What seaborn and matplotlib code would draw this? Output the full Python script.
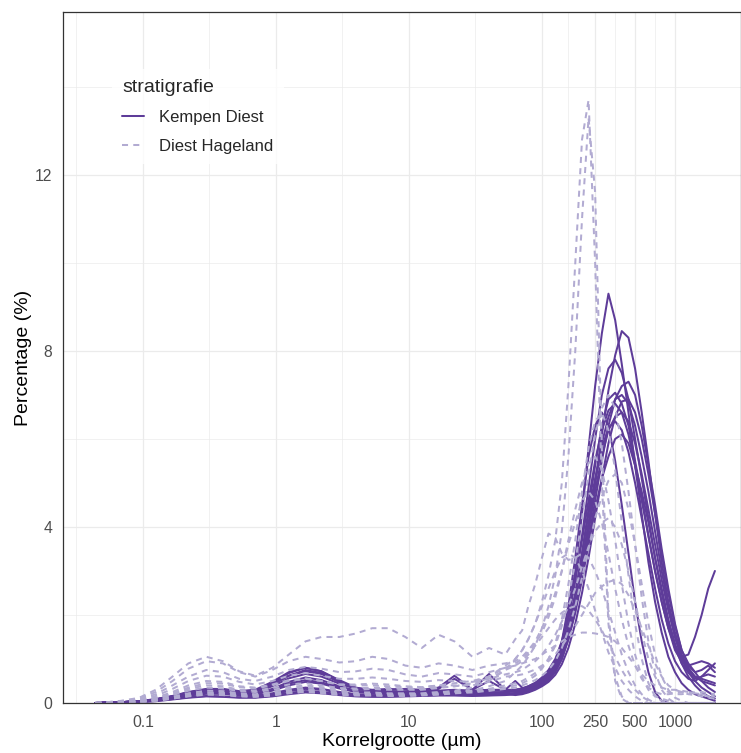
import matplotlib
matplotlib.use("Agg")
import matplotlib.pyplot as plt
import pandas as pd
import seaborn as sns
from matplotlib.lines import Line2D
from matplotlib.ticker import FixedLocator, NullFormatter

# grain size classes (µm)
sizes = [0.044, 0.055, 0.07, 0.094, 0.125, 0.167, 0.22, 0.3, 0.4, 0.53, 0.7, 0.94,
         1.25, 1.67, 2.2, 3.0, 4.0, 5.3, 7.0, 9.4, 12.5, 16.7, 22, 30, 40, 53,
         63, 71, 79, 89, 100, 112, 126, 141, 158, 178, 200, 224, 251, 282, 316,
         355, 398, 447, 501, 562, 631, 708, 794, 891, 1000, 1122, 1259, 1413,
         1585, 1778, 1995]

# Kempen Diest samples (%)
kd_01 = [0, .01, .02, .03, .06, .12, .18, .22, .22, .18, .17, .22, .3, .35, .32, .25, .2, .18, .17, .17, .18, .2, .2, .19, .2, .22,
         .22, .25, .3, .38, .5, .68, .95, 1.35, 2.0, 3.0, 4.3, 5.8, 7.2, 8.4, 9.3, 8.7, 7.7, 6.6, 5.4, 4.3, 3.2, 2.3, 1.6, 1.05, .7, .45, .3, .2, .15, .1, .05]
kd_02 = [0, .01, .02, .04, .08, .14, .22, .28, .28, .22, .22, .32, .48, .58, .52, .38, .28, .24, .22, .22, .24, .26, .26, .24, .24, .24,
         .2, .22, .26, .32, .4, .52, .7, 1.0, 1.45, 2.1, 2.95, 3.95, 5.0, 6.1, 7.1, 7.9, 8.45, 8.3, 7.6, 6.6, 5.5, 4.3, 3.2, 2.3, 1.6, 1.1, .8, .6, .5, .45, .4]
kd_03 = [0, .01, .02, .04, .09, .16, .25, .32, .32, .27, .3, .48, .7, .8, .72, .52, .35, .28, .3, .32, .3, .35, .62, .3, .66, .3,
         .5, .35, .32, .4, .5, .65, .9, 1.3, 1.9, 2.8, 3.8, 4.9, 6.0, 7.0, 7.6, 7.8, 7.5, 6.9, 6.0, 5.1, 4.2, 3.3, 2.5, 1.8, 1.25, .9, .7, .55, .6, .75, .9]
kd_04 = [0, .01, .02, .04, .08, .15, .24, .3, .3, .26, .28, .42, .62, .72, .66, .48, .34, .3, .32, .3, .28, .32, .55, .3, .5, .3,
         .3, .33, .38, .45, .55, .7, .9, 1.2, 1.6, 2.2, 2.9, 3.7, 4.6, 5.5, 6.3, 6.9, 7.2, 7.3, 7.0, 6.3, 5.4, 4.5, 3.5, 2.6, 1.8, 1.2, .9, .7, .5, .35, .25]
kd_05 = [0, 0, .01, .02, .04, .08, .12, .15, .14, .12, .12, .15, .2, .24, .22, .18, .15, .14, .14, .15, .16, .17, .17, .16, .17, .18,
         .2, .24, .28, .34, .42, .56, .78, 1.1, 1.65, 2.45, 3.4, 4.4, 5.4, 6.3, 6.9, 7.05, 6.8, 6.3, 5.5, 4.7, 3.8, 3.0, 2.3, 1.7, 1.3, 1.05, 1.1, 1.5, 2.0, 2.6, 3.0]
kd_06 = [0, .01, .02, .04, .08, .14, .22, .27, .27, .23, .25, .38, .56, .66, .6, .44, .32, .28, .27, .26, .26, .28, .3, .28, .3, .3,
         .28, .3, .35, .42, .52, .66, .88, 1.2, 1.7, 2.4, 3.2, 4.1, 5.0, 5.9, 6.5, 6.9, 7.0, 6.8, 6.3, 5.6, 4.8, 3.9, 3.0, 2.2, 1.5, 1.0, .7, .5, .35, .25, .15]
kd_07 = [0, .01, .02, .04, .07, .13, .2, .25, .25, .2, .2, .28, .4, .48, .44, .33, .25, .22, .2, .2, .21, .22, .23, .22, .22, .25,
         .3, .33, .38, .46, .58, .75, 1.0, 1.4, 2.0, 2.8, 3.7, 4.6, 5.5, 6.2, 6.65, 6.8, 6.6, 6.1, 5.4, 4.6, 3.8, 3.0, 2.3, 1.7, 1.2, .95, .85, .9, .95, .9, .8]
kd_08 = [0, .01, .02, .03, .06, .11, .17, .21, .21, .17, .16, .2, .27, .32, .3, .24, .19, .17, .16, .16, .17, .19, .19, .18, .19, .2,
         .22, .25, .3, .36, .45, .58, .78, 1.1, 1.55, 2.2, 3.0, 3.9, 4.8, 5.6, 6.2, 6.5, 6.6, 6.4, 5.9, 5.2, 4.4, 3.6, 2.8, 2.1, 1.5, 1.05, .75, .6, .55, .5, .45]
kd_09 = [0, .01, .02, .04, .08, .15, .23, .29, .28, .24, .27, .42, .62, .75, .68, .48, .33, .27, .26, .25, .25, .27, .28, .27, .28, .28,
         .25, .28, .32, .38, .48, .62, .85, 1.2, 1.75, 2.5, 3.4, 4.3, 5.1, 5.8, 6.25, 6.4, 6.2, 5.7, 5.0, 4.2, 3.4, 2.6, 1.9, 1.35, .95, .7, .55, .5, .6, .65, .6]
kd_10 = [0, 0, .01, .02, .05, .09, .13, .16, .15, .13, .13, .17, .23, .27, .25, .2, .16, .15, .15, .16, .17, .18, .18, .17, .18, .19,
         .2, .23, .27, .33, .41, .53, .72, 1.0, 1.45, 2.05, 2.8, 3.6, 4.4, 5.1, 5.6, 6.0, 6.1, 5.9, 5.4, 4.8, 4.1, 3.3, 2.6, 1.9, 1.35, .9, .6, .4, .25, .15, .1]
kd_11 = [0, .01, .02, .04, .08, .15, .24, .31, .31, .26, .29, .45, .68, .8, .72, .5, .34, .27, .25, .24, .24, .25, .26, .25, .25, .22,
         .18, .2, .24, .3, .38, .48, .64, .88, 1.25, 1.8, 2.5, 3.3, 4.2, 5.1, 5.9, 6.5, 6.85, 6.9, 6.6, 6.0, 5.2, 4.3, 3.4, 2.5, 1.75, 1.2, .85, .7, .75, .85, .7]
kd_12 = [0, .01, .02, .04, .08, .14, .21, .26, .26, .21, .21, .3, .44, .52, .47, .35, .26, .23, .21, .21, .22, .23, .23, .22, .22, .22,
         .2, .22, .26, .33, .43, .6, .9, 1.4, 2.2, 3.3, 4.5, 5.6, 6.3, 6.6, 6.3, 5.5, 4.5, 3.4, 2.3, 1.4, .7, .25, .05, 0, 0, 0, 0, 0, 0, 0, 0]

# Diest Hageland samples (%)
dh_01 = [0, 0, .01, .03, .06, .12, .18, .23, .22, .18, .17, .2, .26, .3, .27, .22, .2, .2, .19, .19, .2, .23, .28, .35, .5, .75,
         1.0, 1.2, 1.45, 1.8, 2.3, 2.9, 3.7, 5.0, 7.2, 10.0, 12.8, 13.7, 10.0, 5.0, 1.8, .5, .1, 0, 0, 0, 0, 0, 0, 0, 0, 0, 0, 0, 0, 0, 0]
dh_02 = [0, 0, .01, .02, .05, .1, .15, .19, .18, .15, .14, .17, .22, .25, .22, .18, .17, .17, .16, .16, .17, .19, .22, .28, .38, .5,
         .7, .85, 1.05, 1.3, 1.7, 2.2, 2.9, 3.9, 5.6, 8.0, 11.0, 13.3, 11.6, 5.8, 2.0, .6, .15, 0, 0, 0, 0, 0, 0, 0, 0, 0, 0, 0, 0, 0, 0]
dh_03 = [0, .02, .05, .12, .3, .6, .9, 1.05, .95, .72, .62, .8, 1.1, 1.4, 1.5, 1.5, 1.58, 1.7, 1.7, 1.5, 1.25, 1.55, 1.4, 1.05, 1.25, 1.1,
         1.45, 1.65, 2.2, 2.7, 3.3, 3.85, 3.75, 3.4, 3.25, 3.3, 3.4, 3.3, 3.0, 2.6, 2.1, 1.6, 1.1, .7, .4, .2, .08, 0, 0, 0, 0, 0, 0, 0, 0, 0, 0]
dh_04 = [0, 0, .01, .03, .07, .14, .22, .28, .27, .22, .2, .25, .32, .36, .32, .26, .24, .24, .22, .22, .22, .25, .26, .28, .32, .4,
         .45, .5, .58, .68, .82, 1.0, 1.3, 1.75, 2.4, 3.2, 4.2, 5.2, 6.1, 6.7, 7.0, 6.7, 5.9, 4.8, 3.6, 2.4, 1.4, .7, .3, .1, 0, 0, 0, 0, 0, 0, 0]
dh_05 = [0, 0, .01, .02, .05, .1, .16, .2, .2, .16, .15, .18, .24, .27, .24, .2, .18, .18, .17, .17, .18, .2, .22, .24, .28, .35,
         .4, .45, .52, .62, .78, 1.0, 1.35, 1.9, 2.7, 3.7, 4.8, 5.8, 6.4, 6.6, 6.2, 5.3, 4.1, 2.9, 1.8, 1.0, .45, .15, .05, 0, 0, 0, 0, 0, 0, 0, 0]
dh_06 = [0, .01, .02, .05, .11, .22, .35, .45, .44, .36, .33, .4, .5, .55, .5, .42, .4, .4, .38, .36, .35, .4, .45, .5, .6, .8,
         .9, 1.0, 1.15, 1.35, 1.6, 1.95, 2.4, 3.0, 3.7, 4.4, 5.0, 5.45, 5.6, 5.3, 4.6, 3.7, 2.7, 1.8, 1.1, .6, .3, .15, .1, .05, 0, 0, 0, 0, 0, 0, 0]
dh_07 = [0, .02, .05, .1, .25, .5, .78, .95, .9, .7, .6, .75, .95, 1.05, 1.0, .92, .95, 1.05, 1.0, .85, .8, .9, .85, .75, .85, .9,
         .95, 1.05, 1.2, 1.4, 1.7, 2.05, 2.5, 3.0, 3.6, 4.1, 4.6, 4.8, 4.6, 4.1, 3.4, 2.6, 1.9, 1.3, .85, .55, .35, .25, .2, .2, .22, .25, .25, .22, .2, .18, .15]
dh_08 = [0, .01, .03, .07, .16, .32, .5, .62, .6, .48, .42, .5, .62, .68, .62, .55, .55, .58, .55, .5, .48, .52, .5, .48, .55, .65,
         .7, .75, .85, .95, 1.1, 1.3, 1.55, 1.85, 2.2, 2.6, 3.1, 3.55, 3.9, 4.1, 4.2, 4.0, 3.6, 3.0, 2.3, 1.6, 1.0, .6, .35, .25, .2, .2, .22, .25, .25, .22, .2]
dh_09 = [0, .01, .02, .04, .09, .18, .28, .35, .33, .27, .25, .3, .36, .4, .36, .3, .3, .32, .3, .3, .3, .34, .38, .45, .6, .85,
         1.0, 1.2, 1.45, 1.8, 2.2, 2.6, 3.0, 3.3, 3.4, 3.3, 3.0, 2.6, 2.1, 1.6, 1.15, .8, .5, .3, .15, .05, 0, 0, 0, 0, 0, 0, 0, 0, 0, 0, 0]
dh_10 = [0, .01, .02, .05, .12, .25, .4, .5, .48, .38, .35, .42, .52, .56, .5, .42, .42, .44, .42, .38, .36, .4, .4, .4, .48, .6,
         .62, .65, .7, .76, .85, .95, 1.1, 1.3, 1.5, 1.75, 2.0, 2.25, 2.5, 2.65, 2.75, 2.8, 2.7, 2.45, 2.1, 1.7, 1.3, .9, .6, .4, .3, .25, .2, .18, .15, .12, .1]
dh_11 = [0, .01, .02, .04, .1, .2, .32, .4, .38, .3, .28, .34, .42, .45, .4, .34, .33, .35, .34, .32, .32, .36, .38, .42, .55, .75,
         .85, .95, 1.1, 1.3, 1.5, 1.7, 1.9, 2.05, 2.15, 2.2, 2.2, 2.1, 1.9, 1.65, 1.35, 1.05, .75, .5, .3, .15, .05, 0, 0, 0, 0, 0, 0, 0, 0, 0, 0]
dh_12 = [0, .01, .04, .08, .2, .4, .6, .75, .7, .55, .5, .6, .75, .82, .78, .7, .72, .78, .75, .65, .6, .68, .65, .6, .7, .8,
         .85, .9, .95, 1.0, 1.1, 1.2, 1.3, 1.4, 1.5, 1.55, 1.6, 1.6, 1.58, 1.55, 1.5, 1.4, 1.25, 1.05, .85, .65, .5, .4, .35, .3, .3, .28, .25, .22, .2, .15, .1]
dh_13 = [0, 0, .01, .02, .06, .12, .19, .24, .23, .19, .18, .22, .28, .32, .28, .23, .21, .21, .2, .2, .2, .22, .24, .26, .28, .32,
         .35, .4, .45, .52, .62, .75, .95, 1.25, 1.65, 2.2, 2.85, 3.5, 4.2, 4.7, 5.05, 5.2, 5.0, 4.4, 3.6, 2.7, 1.8, 1.1, .6, .3, .12, .05, 0, 0, 0, 0, 0]

groups = ["Kempen Diest", "Diest Hageland"]
kempen_diest = [kd_01, kd_02, kd_03, kd_04, kd_05, kd_06, kd_07, kd_08, kd_09, kd_10, kd_11, kd_12]
diest_hageland = [dh_01, dh_02, dh_03, dh_04, dh_05, dh_06, dh_07, dh_08, dh_09, dh_10, dh_11, dh_12, dh_13]
x_ticks = [0.1, 1, 10, 100, 250, 500, 1000]
x_ticklabels = ["0.1", "1", "10", "100", "250", "500", "1000"]
y_ticks = [0, 4, 8, 12]

rows = []
for grp, samples, tag in [(groups[0], kempen_diest, "KD"), (groups[1], diest_hageland, "DH")]:
    for i, s in enumerate(samples):
        assert len(s) == len(sizes), (tag, i, len(s))
        for x, y in zip(sizes, s):
            rows.append((grp, f"{tag}{i:02d}", x, y))
df = pd.DataFrame(rows, columns=["stratigrafie", "monster", "korrelgrootte", "percentage"])
df["stratigrafie"] = pd.Categorical(df["stratigrafie"], categories=groups, ordered=True)

sns.set_theme(style="white")
plt.rcParams["font.family"] = ["Liberation Sans", "DejaVu Sans"]

col_kd = "#5E3C99"
col_dh = "#B2ABD2"
dash_dh = (3.0, 2.6)

fig = plt.figure(figsize=(7.41, 7.53), dpi=100)
ax = fig.add_axes([63 / 741, 50 / 753, (741 - 63) / 741, 691 / 753])

sns.lineplot(data=df, x="korrelgrootte", y="percentage", hue="stratigrafie",
             style="stratigrafie", units="monster", estimator=None, sort=False,
             palette={groups[0]: col_kd, groups[1]: col_dh},
             dashes={groups[0]: "", groups[1]: dash_dh},
             linewidth=1.45, legend=False, ax=ax)

ax.set_xscale("log")
ax.set_xlim(10 ** -1.60, 10 ** 3.496)
ax.set_ylim(0, 15.7)

ax.set_xticks(x_ticks)
ax.set_xticklabels(x_ticklabels)
ax.xaxis.set_minor_locator(FixedLocator([10 ** -1.5, 10 ** -0.5, 10 ** 0.5, 10 ** 1.5, 158.1, 353.6, 707.1]))
ax.xaxis.set_minor_formatter(NullFormatter())
ax.set_yticks(y_ticks)
ax.set_yticklabels([str(v) for v in y_ticks])
ax.set_yticks([2, 6, 10, 14], minor=True)

ax.grid(which="major", color="#EBEBEB", lw=0.9)
ax.grid(which="minor", color="#EBEBEB", lw=0.5)
ax.set_axisbelow(True)
ax.tick_params(which="major", length=3.6, width=0.8, color="#333333", labelsize=11.3,
               labelcolor="#4D4D4D", direction="out")
ax.tick_params(axis="x", which="major", pad=5)
ax.tick_params(axis="y", which="major", pad=4)
ax.tick_params(which="minor", length=0)
for sp in ax.spines.values():
    sp.set_color("#333333")
    sp.set_linewidth(0.9)

ax.set_xlabel("Korrelgrootte (µm)", fontsize=14, color="black", labelpad=2)
ax.set_ylabel("Percentage (%)", fontsize=14, color="black", labelpad=2)

handles = [Line2D([], [], color=col_kd, lw=1.45, ls="-"),
           Line2D([], [], color=col_dh, lw=1.45, dashes=dash_dh)]
leg = ax.legend(handles, groups, title="stratigrafie", loc="upper left",
                bbox_to_anchor=(0.0723, 0.9175), frameon=True, fontsize=12,
                title_fontsize=14, handlelength=1.32, handletextpad=0.9,
                labelspacing=0.82, borderpad=0.62, borderaxespad=0,
                alignment="left", fancybox=False)
leg.get_frame().set_facecolor("white")
leg.get_frame().set_edgecolor("none")

fig.savefig("out.png", dpi=100)
